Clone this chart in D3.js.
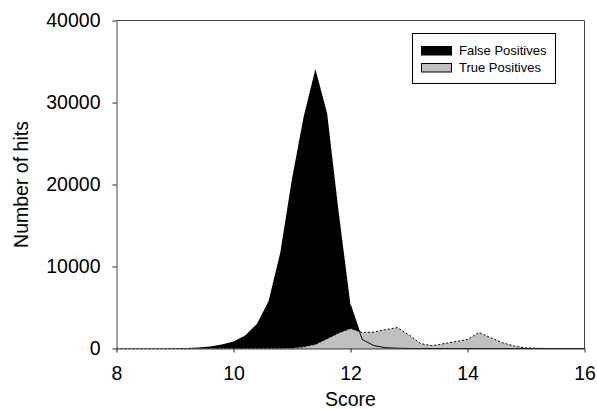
<!DOCTYPE html>
<html>
<head>
<meta charset="utf-8">
<script src="https://cdn.jsdelivr.net/npm/d3@7"></script>
<style>
  body { margin: 0; background: #fff; }
  text { font-family: "Liberation Sans", Arial, sans-serif; fill: #000; }
</style>
</head>
<body>
<div id="chart"></div>
<script>
// Score bins (0.2 apart)
var scores = [8.0, 8.2, 8.4, 8.6, 8.8, 9.0, 9.2, 9.4, 9.6, 9.8,
  10.0, 10.2, 10.4, 10.6, 10.8, 11.0, 11.2, 11.4, 11.6, 11.8,
  12.0, 12.2, 12.4, 12.6, 12.8, 13.0, 13.2, 13.4, 13.6, 13.8,
  14.0, 14.2, 14.4, 14.6, 14.8, 15.0, 15.2, 15.4, 15.6, 15.8, 16.0];

// Number of hits per bin
var falsePos = [0, 0, 0, 5, 10, 20, 50, 110, 240, 480,
  850, 1600, 3000, 5800, 11700, 20700, 28300, 34100, 28700, 16500,
  5300, 1100, 350, 100, 30, 0, 0, 0, 0, 0,
  0, 0, 0, 0, 0, 0, 0, 0, 0, 0, 0];

var truePos = [0, 0, 0, 0, 0, 0, 0, 0, 0, 0,
  0, 0, 0, 10, 30, 60, 200, 500, 1200, 1900,
  2450, 1950, 2000, 2300, 2550, 1650, 600, 330, 600, 850,
  1100, 1950, 1300, 700, 300, 80, 20, 0, 0, 0, 0];

var xTicks = [8, 10, 12, 14, 16];
var yTicks = [0, 10000, 20000, 30000, 40000];
var seriesNames = ["False Positives", "True Positives"];

var W = 597, H = 409;
var margin = {top: 20.5, right: 12.5, bottom: 60.5, left: 116.5};
var w = W - margin.left - margin.right;
var h = H - margin.top - margin.bottom;

var svg = d3.select("#chart")
  .append("svg")
  .attr("width", W)
  .attr("height", H);

var g = svg.append("g")
  .attr("transform", "translate(" + margin.left + "," + margin.top + ")");

var x = d3.scaleLinear().domain([8, 16]).range([0, w]);
var y = d3.scaleLinear().domain([0, 40000]).range([h, 0]);

var fpData = scores.map(function(s, i) { return {x: s, y: falsePos[i]}; });
var tpData = scores.map(function(s, i) { return {x: s, y: truePos[i]}; });

var area = d3.area()
  .x(function(d) { return x(d.x); })
  .y0(y(0))
  .y1(function(d) { return y(d.y); });

var line = d3.line()
  .x(function(d) { return x(d.x); })
  .y(function(d) { return y(d.y); });

// False positives (black)
g.append("path")
  .datum(fpData)
  .attr("d", area)
  .attr("fill", "#000");

// True positives (grey, dotted outline)
g.append("path")
  .datum(tpData)
  .attr("d", area)
  .attr("fill", "#c0c0c0");

g.append("path")
  .datum(tpData)
  .attr("d", line)
  .attr("fill", "none")
  .attr("stroke", "#000")
  .attr("stroke-width", 1)
  .attr("stroke-dasharray", "2,2");

g.append("path")
  .datum(fpData.filter(function(d) { return d.x >= 12; }))
  .attr("d", line)
  .attr("fill", "none")
  .attr("stroke", "#000")
  .attr("stroke-width", 1);

// Frame (top and right)
g.append("path")
  .attr("d", "M0,0H" + w + "V" + h)
  .attr("fill", "none")
  .attr("stroke", "#444")
  .attr("stroke-width", 1);

// Axes
var xAxis = g.append("g")
  .attr("transform", "translate(0," + h + ")")
  .call(d3.axisBottom(x).tickValues(xTicks).tickFormat(d3.format("d"))
    .tickSize(4).tickPadding(14).tickSizeOuter(0));

var yAxis = g.append("g")
  .call(d3.axisLeft(y).tickValues(yTicks).tickFormat(d3.format("d"))
    .tickSize(4).tickPadding(12).tickSizeOuter(0));

[xAxis, yAxis].forEach(function(ax) {
  ax.select(".domain").attr("stroke", "#444");
  ax.selectAll(".tick line").attr("stroke", "#222");
  ax.selectAll(".tick text")
    .style("font-family", "'Liberation Sans', Arial, sans-serif")
    .style("font-size", "19.5px")
    .attr("fill", "#000");
});

// Axis titles
svg.append("text")
  .attr("x", margin.left + w / 2)
  .attr("y", 406)
  .attr("text-anchor", "middle")
  .style("font-size", "19.5px")
  .text("Score");

svg.append("text")
  .attr("transform", "translate(28," + (margin.top + h / 2) + ") rotate(-90)")
  .attr("text-anchor", "middle")
  .style("font-size", "19.5px")
  .text("Number of hits");

// Legend
var legend = svg.append("g");
legend.append("rect")
  .attr("x", 412.5).attr("y", 33.5)
  .attr("width", 143).attr("height", 50)
  .attr("fill", "#fff")
  .attr("stroke", "#000")
  .attr("stroke-width", 1);

var swatchFill = ["#000", "#c0c0c0"];
seriesNames.forEach(function(name, i) {
  legend.append("rect")
    .attr("x", 421.5).attr("y", 46.5 + i * 17)
    .attr("width", 30).attr("height", 8.5)
    .attr("fill", swatchFill[i])
    .attr("stroke", "#000")
    .attr("stroke-width", 1);
  legend.append("text")
    .attr("x", 459)
    .attr("y", 55 + i * 17)
    .style("font-size", "13px")
    .text(name);
});
</script>
</body>
</html>
